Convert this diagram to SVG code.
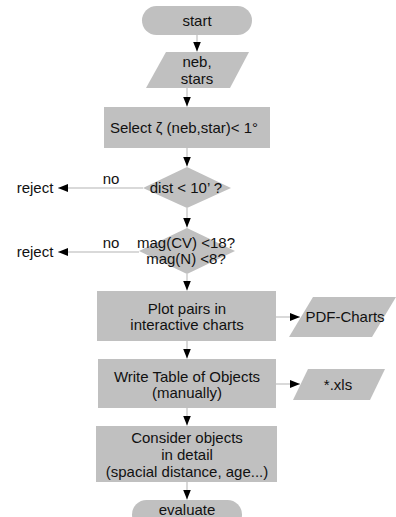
<svg xmlns="http://www.w3.org/2000/svg" width="396" height="517" viewBox="0 0 396 517">
<style>
.s{fill:#c0c0c0;stroke:none}
.t{font-family:"Liberation Sans",Arial,sans-serif;font-size:15px;fill:#111;text-anchor:middle}
.e{stroke:#b3b3b3;stroke-width:1;fill:none}
</style>
<defs>
<marker id="ah" viewBox="0 0 10 8" refX="10" refY="4" markerWidth="10" markerHeight="8" markerUnits="userSpaceOnUse" orient="auto">
<path d="M0,0 L10,4 L0,8 Z" fill="#000"/>
</marker>
</defs>
<rect width="396" height="517" fill="#fff"/>
<g id="connectors">
<line class="e" x1="197" y1="35" x2="197" y2="51.5" marker-end="url(#ah)"/>
<line class="e" x1="187" y1="88" x2="187" y2="106.5" marker-end="url(#ah)"/>
<line class="e" x1="187" y1="148" x2="187" y2="166.5" marker-end="url(#ah)"/>
<line class="e" x1="143" y1="188" x2="58" y2="188" marker-end="url(#ah)"/>
<line class="e" x1="187" y1="208" x2="187" y2="227.5" marker-end="url(#ah)"/>
<line class="e" x1="139" y1="252" x2="58" y2="252" marker-end="url(#ah)"/>
<line class="e" x1="187" y1="274" x2="187" y2="290.5" marker-end="url(#ah)"/>
<line class="e" x1="276" y1="317" x2="300" y2="317" marker-end="url(#ah)"/>
<line class="e" x1="187" y1="341" x2="187" y2="358.5" marker-end="url(#ah)"/>
<line class="e" x1="276" y1="384" x2="300" y2="384" marker-end="url(#ah)"/>
<line class="e" x1="187" y1="408" x2="187" y2="425.5" marker-end="url(#ah)"/>
<line class="e" x1="187" y1="482" x2="187" y2="499.5" marker-end="url(#ah)"/>
</g>
<g id="start">
<rect class="s" x="142" y="6" width="110" height="29" rx="14.5" ry="14.5"/>
<text class="t" x="197" y="26">start</text>
</g>
<g id="input">
<polygon class="s" points="166,52 249,52 230,88 146,88"/>
<text class="t" x="197" y="67">neb,</text>
<text class="t" x="197" y="84">stars</text>
</g>
<g id="select">
<rect class="s" x="104" y="107" width="166" height="41"/>
<text class="t" x="184" y="133">Select ζ (neb,star)&lt; 1°</text>
</g>
<g id="dist">
<polygon class="s" points="187,167 231,188 187,208 143,188"/>
<text class="t" x="186" y="193">dist &lt; 10’ ?</text>
</g>
<g id="reject1">
<text class="t" x="35" y="193">reject</text>
<text class="t" x="111" y="184">no</text>
</g>
<g id="mag">
<polygon class="s" points="187,228 235,251 187,274 139,251"/>
<text class="t" x="186" y="248">mag(CV) &lt;18?</text>
<text class="t" x="186" y="264">mag(N) &lt;8?</text>
</g>
<g id="reject2">
<text class="t" x="35" y="257">reject</text>
<text class="t" x="111" y="248">no</text>
</g>
<g id="plot">
<rect class="s" x="97" y="291" width="179" height="50"/>
<text class="t" x="187" y="314">Plot pairs in</text>
<text class="t" x="187" y="330">interactive charts</text>
</g>
<g id="pdf">
<polygon class="s" points="313,297 396,297 372,337 289,337"/>
<text class="t" x="345" y="322">PDF-Charts</text>
</g>
<g id="write">
<rect class="s" x="98" y="359" width="178" height="49"/>
<text class="t" x="187" y="382">Write Table of Objects</text>
<text class="t" x="187" y="398">(manually)</text>
</g>
<g id="xls">
<polygon class="s" points="308,369 385,369 370,400 293,400"/>
<text class="t" x="338" y="390">*.xls</text>
</g>
<g id="consider">
<rect class="s" x="96" y="426" width="181" height="56"/>
<text class="t" x="187" y="443">Consider objects</text>
<text class="t" x="187" y="460">in detail</text>
<text class="t" x="187" y="477">(spacial distance, age...)</text>
</g>
<g id="evaluate">
<rect class="s" x="132" y="500" width="110" height="29" rx="14.5" ry="14.5"/>
<text class="t" x="187" y="515">evaluate</text>
</g>
</svg>
